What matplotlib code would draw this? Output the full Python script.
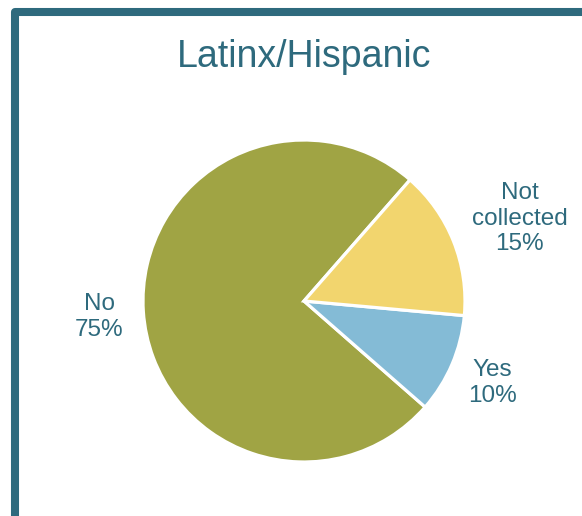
import matplotlib.pyplot as plt
from matplotlib.patches import Rectangle

categories = ['No', 'Yes', 'Not collected']
shares = [75, 10, 15]
colors = ['#A0A444', '#84BBD6', '#F2D56E']
label_text = ['No', 'Yes', 'Not\ncollected']
# label anchor points, in pie-radius units
label_xy = [(-1.27, -0.10), (1.17, -0.51), (1.34, 0.51)]

teal = '#2E6A7D'
plt.rcParams['font.family'] = ['Liberation Sans', 'DejaVu Sans']

W, H = 582, 516
fig = plt.figure(figsize=(W / 100, H / 100), dpi=100)

# frame around the panel (runs off the right and bottom edges)
fig.patches.append(Rectangle((15 / W, -0.1), 1.2, (H - 12) / H + 0.1,
                             transform=fig.transFigure, fill=False,
                             edgecolor=teal, linewidth=5.8,
                             joinstyle='round'))

cx, cy, r = 304, 301, 161
ax = fig.add_axes([(cx - r) / W, (H - cy - r) / H, 2 * r / W, 2 * r / H])
ax.pie(shares, colors=colors, startangle=48.8, counterclock=True,
       radius=1, wedgeprops=dict(edgecolor='white', linewidth=2.3))
ax.set_xlim(-1, 1)
ax.set_ylim(-1, 1)
ax.axis('off')

for name, val, (x, y) in zip(label_text, shares, label_xy):
    ax.text(x, y, f'{name}\n{val}%', ha='center', va='center',
            fontsize=17.5, color=teal, linespacing=1.2, clip_on=False)

fig.text(cx / W, 1 - 57 / H, 'Latinx/Hispanic', ha='center', va='center',
         fontsize=27, color=teal)

fig.savefig('out.png', dpi=100)
